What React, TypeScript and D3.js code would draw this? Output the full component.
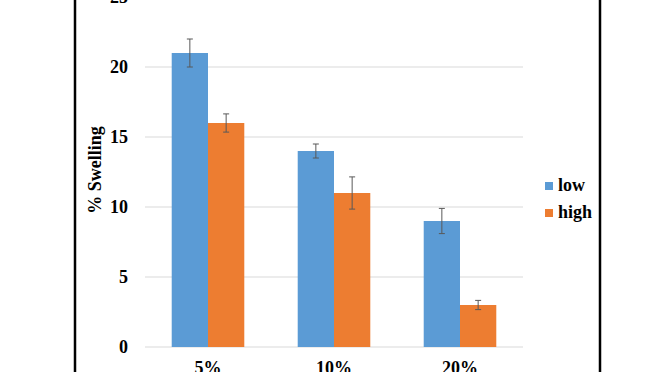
import React from "react";
import * as d3 from "d3";

const categories = ["5%", "10%", "20%"];
const seriesNames = ["low", "high"];
const lowValues = [21, 14, 9];
const highValues = [16, 11, 3];
const lowErrors = [1.0, 0.5, 0.9];
const highErrors = [0.65, 1.15, 0.33];
const yTicks = [0, 5, 10, 15, 20, 25];
const colors = ["#5b9bd5", "#ed7d31"];

export default function App() {
  const W = 672, H = 372;
  const x0 = d3.scaleBand<string>().domain(categories).range([145, 523]).padding(0);
  const groupW = x0.bandwidth() * 0.576;
  const x1 = d3.scaleBand<string>().domain(seriesNames).range([0, groupW]).padding(0);
  const y = d3.scaleLinear().domain([0, 25]).range([347, -3]);
  const values = [lowValues, highValues];
  const errors = [lowErrors, highErrors];
  const font = "'Liberation Serif', 'Times New Roman', serif";

  return (
    <svg width={W} height={H} style={{ position: "absolute", left: 0, top: 0, background: "#fff" }}>
      <rect x={0} y={0} width={W} height={H} fill="#fff" />
      {/* border */}
      <line x1={75} x2={75} y1={0} y2={H} stroke="#000" strokeWidth={2.5} />
      <line x1={600} x2={600} y1={0} y2={H} stroke="#000" strokeWidth={2.5} />
      {/* gridlines */}
      {yTicks.map((t) => (
        <line key={t} x1={145} x2={523} y1={y(t)} y2={y(t)} stroke="#d9d9d9" strokeWidth={1} />
      ))}
      {/* y tick labels */}
      {yTicks.map((t) => (
        <text key={"l" + t} x={128} y={y(t)} dy="0.35em" textAnchor="end" fontFamily={font} fontWeight="bold" fontSize={18} fill="#000">
          {t}
        </text>
      ))}
      {/* y title */}
      <text transform={`translate(101,170) rotate(-90)`} textAnchor="middle" fontFamily={font} fontWeight="bold" fontSize={18} fill="#000">
        % Swelling
      </text>
      {/* bars */}
      {categories.map((c, i) => {
        const gx = (x0(c) ?? 0) + (x0.bandwidth() - groupW) / 2;
        return (
          <g key={c} transform={`translate(${gx},0)`}>
            {seriesNames.map((s, j) => {
              const v = values[j][i];
              const e = errors[j][i];
              const bx = x1(s) ?? 0;
              const cx = bx + x1.bandwidth() / 2;
              return (
                <g key={s}>
                  <rect x={bx} y={y(v)} width={x1.bandwidth()} height={y(0) - y(v)} fill={colors[j]} />
                  <line x1={cx} x2={cx} y1={y(v + e)} y2={y(v - e)} stroke="#595959" strokeWidth={1} />
                  <line x1={cx - 3} x2={cx + 3} y1={y(v + e)} y2={y(v + e)} stroke="#595959" strokeWidth={1} />
                  <line x1={cx - 3} x2={cx + 3} y1={y(v - e)} y2={y(v - e)} stroke="#595959" strokeWidth={1} />
                </g>
              );
            })}
          </g>
        );
      })}
      {/* x labels */}
      {categories.map((c) => (
        <text key={c} x={(x0(c) ?? 0) + x0.bandwidth() / 2} y={374} textAnchor="middle" fontFamily={font} fontWeight="bold" fontSize={18} fill="#000">
          {c}
        </text>
      ))}
      {/* legend */}
      {seriesNames.map((s, j) => (
        <g key={s} transform={`translate(545,${182 + j * 27})`}>
          <rect x={0} y={0} width={8} height={8} fill={colors[j]} />
          <text x={13} y={8.5} fontFamily={font} fontWeight="bold" fontSize={18} fill="#000">
            {s}
          </text>
        </g>
      ))}
    </svg>
  );
}
